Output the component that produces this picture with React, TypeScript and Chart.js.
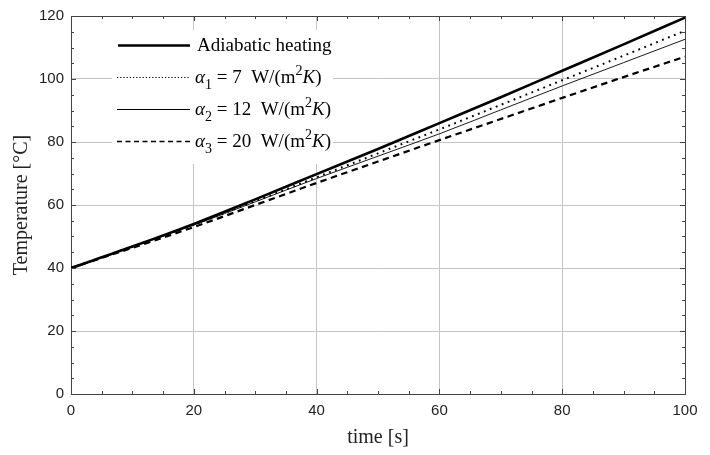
import React, { useEffect, useRef } from 'react';
import { Chart, registerables } from 'chart.js';

Chart.register(...registerables);

// ---- data ----
const timeS = [0, 10, 20, 30, 40, 50, 60, 70, 80, 90, 100];
const adiabatic = [40, 46.8, 54, 61.8, 69.8, 77.8, 86, 94.2, 102.6, 111, 119.5];
const alpha1 = [40, 46.8, 53.8, 61.2, 68.8, 76.4, 84, 91.8, 99.6, 107.4, 115.3];
const alpha2 = [40, 46.7, 53.6, 61, 68.4, 75.5, 82.6, 90.2, 97.8, 105.2, 112.6];
const alpha3 = [40, 46.4, 53, 60, 67, 73.8, 80.6, 87.3, 94, 100.6, 107.1];

const xMin = 0, xMax = 100, yMin = 0, yMax = 120;
const majorStep = 20, minorStep = 5;

const xTitle = 'time [s]';
const yTitle = 'Temperature [°C]';
const legendFirst = 'Adiabatic heating';
const alphaIndex = ['1', '2', '3'];
const alphaValue = ['7', '12', '20'];

const SERIF = '"Liberation Serif", "Times New Roman", serif';
const SANS = '"Liberation Sans", Arial, sans-serif';

type Part = { t: string; italic?: boolean; sub?: boolean; sup?: boolean };

function drawParts(ctx: CanvasRenderingContext2D, x: number, y: number, parts: Part[]) {
  for (const p of parts) {
    const small = p.sub || p.sup;
    const size = small ? 14 : 19;
    ctx.font = `${p.italic ? 'italic ' : ''}${size}px ${SERIF}`;
    const dy = p.sub ? 6 : p.sup ? -8 : 0;
    ctx.fillText(p.t, x, y + dy);
    x += ctx.measureText(p.t).width;
  }
}

const styles = [
  { width: 2.6, dash: [] as number[], lw: 2.6, ldash: [] as number[] },
  { width: 2, dash: [1.8, 4.6], lw: 1.2, ldash: [1.2, 2] },
  { width: 0.9, dash: [] as number[], lw: 1, ldash: [] as number[] },
  { width: 2.2, dash: [6.5, 4.5], lw: 1.3, ldash: [5, 3.5] },
];

const framePlugin = {
  id: 'frameTicks',
  afterDraw(chart: any) {
    const { ctx, chartArea: a, scales } = chart;
    const xs = scales.x, ys = scales.y;
    ctx.save();
    ctx.strokeStyle = '#444';
    ctx.lineWidth = 1;
    ctx.setLineDash([]);
    ctx.beginPath();
    ctx.moveTo(a.left, Math.round(a.top) + 0.5);
    ctx.lineTo(a.right, Math.round(a.top) + 0.5);
    ctx.moveTo(Math.round(a.right) + 0.5, a.top);
    ctx.lineTo(Math.round(a.right) + 0.5, a.bottom);
    for (let v = xMin; v <= xMax; v += minorStep) {
      const px = Math.round(xs.getPixelForValue(v)) + 0.5;
      const len = v % majorStep === 0 ? 5 : 3;
      ctx.moveTo(px, a.bottom);
      ctx.lineTo(px, a.bottom - len);
      ctx.moveTo(px, a.top);
      ctx.lineTo(px, a.top + len);
    }
    for (let v = yMin; v <= yMax; v += minorStep) {
      const py = Math.round(ys.getPixelForValue(v)) + 0.5;
      const len = v % majorStep === 0 ? 5 : 3;
      ctx.moveTo(a.left, py);
      ctx.lineTo(a.left + len, py);
      ctx.moveTo(a.right, py);
      ctx.lineTo(a.right - len, py);
    }
    ctx.stroke();

    // legend
    ctx.fillStyle = '#fff';
    ctx.fillRect(112, 30, 221, 134);
    const rowsY = [45, 77, 109, 141];
    ctx.strokeStyle = '#000';
    ctx.lineCap = 'butt';
    rowsY.forEach((ry, i) => {
      const s = styles[i];
      ctx.lineWidth = s.lw;
      ctx.setLineDash(s.ldash);
      ctx.beginPath();
      ctx.moveTo(i === 0 ? 118 : 117, ry + 0.5);
      ctx.lineTo(190, ry + 0.5);
      ctx.stroke();
    });
    ctx.setLineDash([]);
    ctx.fillStyle = '#000';
    ctx.textBaseline = 'alphabetic';
    ctx.textAlign = 'left';
    ctx.font = `19px ${SERIF}`;
    ctx.fillText(legendFirst, 197, rowsY[0] + 6);
    for (let i = 0; i < 3; i++) {
      drawParts(ctx, 195, rowsY[i + 1] + 6, [
        { t: 'α', italic: true },
        { t: alphaIndex[i], sub: true },
        { t: ` = ${alphaValue[i]}  W/(m` },
        { t: '2', sup: true },
        { t: 'K', italic: true },
        { t: ')' },
      ]);
    }
    ctx.restore();
  },
};

export default function App() {
  const ref = useRef<HTMLCanvasElement>(null);
  useEffect(() => {
    const canvas = ref.current!;
    const mk = (vals: number[]) => timeS.map((t, i) => ({ x: t, y: vals[i] }));
    const all = [adiabatic, alpha1, alpha2, alpha3];
    const labels = ['Adiabatic heating', 'alpha1', 'alpha2', 'alpha3'];
    const chart = new Chart(canvas, {
      type: 'line',
      data: {
        datasets: all.map((v, i) => ({
          label: labels[i],
          data: mk(v),
          borderColor: '#000',
          borderWidth: styles[i].width,
          borderDash: styles[i].dash,
          pointRadius: 0,
          fill: false,
          cubicInterpolationMode: 'monotone' as const,
        })),
      },
      options: {
        animation: false,
        responsive: false,
        maintainAspectRatio: false,
        layout: { padding: { left: 0, top: 15, right: 25, bottom: 0 } },
        plugins: { legend: { display: false }, tooltip: { enabled: false } },
        scales: {
          x: {
            type: 'linear',
            min: xMin,
            max: xMax,
            afterFit: (s: any) => { s.height = 61; },
            grid: {
              drawTicks: false,
              color: (c: any) =>
                c.tick && c.tick.value % majorStep === 0 && c.tick.value !== xMin && c.tick.value !== xMax
                  ? '#c4c4c4'
                  : 'rgba(0,0,0,0)',
            },
            border: { display: true, color: '#444', width: 1 },
            ticks: {
              stepSize: minorStep,
              autoSkip: false,
              maxRotation: 0,
              padding: 8,
              color: '#222',
              font: { family: SANS, size: 15 },
              callback: (v: any) => (Number(v) % majorStep === 0 ? String(v) : ''),
            },
            title: {
              display: true,
              text: xTitle,
              color: '#222',
              font: { family: SERIF, size: 20 },
              padding: { top: 0, bottom: 5 },
            },
          },
          y: {
            type: 'linear',
            min: yMin,
            max: yMax,
            afterFit: (s: any) => { s.width = 71; },
            grid: {
              drawTicks: false,
              color: (c: any) =>
                c.tick && c.tick.value % majorStep === 0 && c.tick.value !== yMin && c.tick.value !== yMax
                  ? '#c4c4c4'
                  : 'rgba(0,0,0,0)',
            },
            border: { display: true, color: '#444', width: 1 },
            ticks: {
              stepSize: minorStep,
              autoSkip: false,
              padding: 7,
              color: '#222',
              font: { family: SANS, size: 15 },
              callback: (v: any) => (Number(v) % majorStep === 0 ? String(v) : ''),
            },
            title: {
              display: true,
              text: yTitle,
              color: '#222',
              font: { family: SERIF, size: 20 },
              padding: { top: 10, bottom: 0 },
            },
          },
        },
      },
      plugins: [framePlugin],
    });
    return () => chart.destroy();
  }, []);
  return (
    <div style={{ position: 'absolute', left: 0, top: 0, width: 710, height: 455, background: '#fff' }}>
      <canvas ref={ref} width={710} height={455} style={{ width: 710, height: 455, display: 'block' }} />
    </div>
  );
}
